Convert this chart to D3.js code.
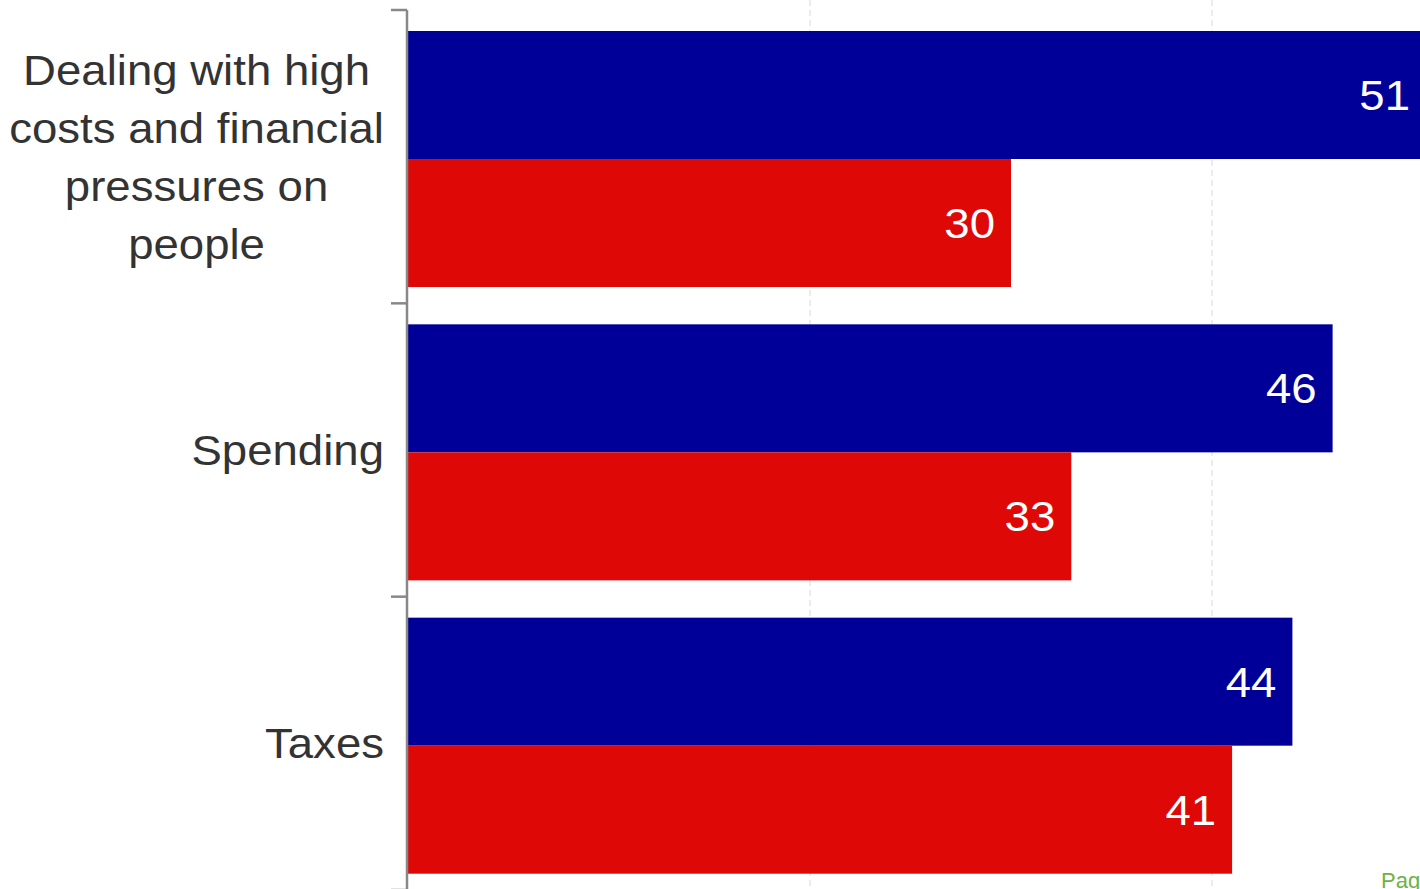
<!DOCTYPE html>
<html>
<head>
<meta charset="utf-8">
<script src="https://cdn.jsdelivr.net/npm/d3@7"></script>
<style>
  html, body { margin: 0; padding: 0; background: #fff; overflow: hidden; }
  svg { display: block; }
  text { font-family: "Liberation Sans", Arial, sans-serif; }
</style>
</head>
<body>
<svg id="chart" width="1420" height="889"></svg>
<script>
const categories = [
  ["Dealing with high", "costs and financial", "pressures on", "people"],
  ["Spending"],
  ["Taxes"]
];
const seriesNames = ["Blue", "Red"];
const blueValues = [51, 46, 44];
const redValues = [30, 33, 41];
const gridTicks = [20, 40];
const footerText = "Pag";

const W = 1420, H = 889;
const SX = 1.085; // horizontal stretch of text
const svg = d3.select("#chart");

const catIdx = categories.map((d, i) => i);
const y = d3.scaleBand().domain(catIdx).range([10, 890]).paddingInner(0).paddingOuter(0);
const ySub = d3.scaleBand().domain(seriesNames).range([21, y.bandwidth() - 16.3]);
const x = d3.scaleLinear().domain([0, 60]).range([408, 1614]);
const colors = { Blue: "#000098", Red: "#de0806" };

// grid lines
svg.append("g").selectAll("line").data(gridTicks).join("line")
  .attr("x1", d => x(d)).attr("x2", d => x(d))
  .attr("y1", 0).attr("y2", H)
  .attr("stroke", "#d9d9d9").attr("stroke-width", 1)
  .attr("stroke-dasharray", "6,4");

// bars
const rows = catIdx.map(i => ({ i, vals: [
  { s: "Blue", v: blueValues[i] },
  { s: "Red", v: redValues[i] }
]}));

const g = svg.append("g").selectAll("g").data(rows).join("g")
  .attr("transform", d => `translate(0,${y(d.i)})`);

g.selectAll("rect").data(d => d.vals).join("rect")
  .attr("x", x(0))
  .attr("y", d => ySub(d.s))
  .attr("width", d => x(d.v) - x(0))
  .attr("height", ySub.bandwidth())
  .attr("fill", d => colors[d.s]);

g.selectAll("text.val").data(d => d.vals).join("text")
  .attr("class", "val")
  .attr("transform", d => `translate(${Math.min(x(d.v), W + 6) - 16},${ySub(d.s) + ySub.bandwidth() / 2}) scale(${SX},1)`)
  .attr("dy", "0.36em")
  .attr("text-anchor", "end")
  .attr("font-size", 42)
  .attr("fill", "#fff")
  .text(d => d.v);

// y axis
const axisG = svg.append("g");
axisG.append("line")
  .attr("x1", 407).attr("x2", 407).attr("y1", 10).attr("y2", H)
  .attr("stroke", "#888").attr("stroke-width", 2.5);
const tickYs = catIdx.map(i => y(i)).concat([y(catIdx.length - 1) + y.bandwidth()]);
axisG.selectAll("line.tick").data(tickYs).join("line")
  .attr("class", "tick")
  .attr("x1", 391).attr("x2", 407)
  .attr("y1", d => d).attr("y2", d => d)
  .attr("stroke", "#888").attr("stroke-width", 2.5);

// category labels
const lineH = 58;
const right = 384;
catIdx.forEach(i => {
  const lines = categories[i];
  const n = lines.length;
  const cy = y(i) + y.bandwidth() / 2;
  const tmp = svg.append("text").attr("font-size", 42);
  let maxW = 0;
  lines.forEach(l => { tmp.text(l); maxW = Math.max(maxW, tmp.node().getComputedTextLength()); });
  tmp.remove();
  const cxLocal = n > 1 ? -maxW / 2 : 0;
  const t = svg.append("text")
    .attr("transform", `translate(${right},${cy}) scale(${SX},1)`)
    .attr("font-size", 42)
    .attr("fill", "#333")
    .attr("text-anchor", n > 1 ? "middle" : "end");
  lines.forEach((l, k) => {
    t.append("tspan")
      .attr("x", cxLocal)
      .attr("y", (k - (n - 1) / 2) * lineH)
      .attr("dy", "0.36em")
      .text(l);
  });
});

// footer
svg.append("text")
  .attr("x", 1381).attr("y", 888)
  .attr("font-size", 22)
  .attr("fill", "#6cb33f")
  .text(footerText);
</script>
</body>
</html>
